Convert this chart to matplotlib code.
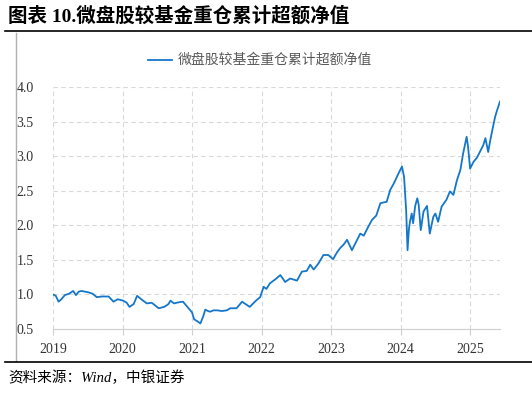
import matplotlib
matplotlib.use('Agg')
import matplotlib.pyplot as plt
from matplotlib.lines import Line2D
import pandas as pd

# 读图估计的关键点（年份小数, 净值）
years = [2019.00, 2019.04, 2019.08, 2019.12, 2019.17, 2019.23, 2019.29, 2019.33, 2019.37, 2019.41,
         2019.51, 2019.57, 2019.63, 2019.70, 2019.80, 2019.87, 2019.93, 2020.01, 2020.06, 2020.10,
         2020.16, 2020.21, 2020.27, 2020.35, 2020.42, 2020.52, 2020.60, 2020.66, 2020.69, 2020.74,
         2020.78, 2020.83, 2020.87, 2020.95, 2021.00, 2021.03, 2021.08, 2021.12, 2021.16, 2021.19,
         2021.23, 2021.26, 2021.31, 2021.36, 2021.43, 2021.50, 2021.55, 2021.64, 2021.72, 2021.77,
         2021.83, 2021.88, 2021.93, 2021.98, 2022.03, 2022.07, 2022.12, 2022.20, 2022.27, 2022.34,
         2022.41, 2022.51, 2022.58, 2022.65, 2022.70, 2022.75, 2022.82, 2022.89, 2022.96, 2023.03,
         2023.08, 2023.13, 2023.18, 2023.23, 2023.30, 2023.36, 2023.42, 2023.47, 2023.53, 2023.59,
         2023.65, 2023.71, 2023.80, 2023.85, 2023.90, 2023.97, 2024.02, 2024.05, 2024.08, 2024.10,
         2024.12, 2024.14, 2024.16, 2024.18, 2024.21, 2024.24, 2024.26, 2024.29, 2024.33, 2024.38,
         2024.42, 2024.47, 2024.50, 2024.54, 2024.59, 2024.66, 2024.71, 2024.76, 2024.81, 2024.86,
         2024.90, 2024.95, 2024.97, 2025.00, 2025.05, 2025.10, 2025.14, 2025.19, 2025.22, 2025.26,
         2025.29, 2025.31, 2025.36, 2025.39, 2025.43]
values = [1.00, 0.98, 0.895, 0.93, 0.99, 1.01, 1.05, 0.99, 1.04, 1.05,
          1.03, 1.01, 0.96, 0.97, 0.97, 0.895, 0.93, 0.91, 0.88, 0.82,
          0.86, 0.98, 0.93, 0.87, 0.88, 0.80, 0.82, 0.86, 0.91, 0.87,
          0.88, 0.89, 0.895, 0.80, 0.74, 0.64, 0.61, 0.58, 0.68, 0.78,
          0.76, 0.75, 0.77, 0.77, 0.76, 0.77, 0.80, 0.80, 0.895, 0.86,
          0.82, 0.87, 0.92, 0.96, 1.11, 1.08, 1.16, 1.22, 1.28, 1.18,
          1.23, 1.20, 1.33, 1.34, 1.43, 1.36, 1.45, 1.57, 1.57, 1.51,
          1.60, 1.67, 1.72, 1.79, 1.64, 1.76, 1.88, 1.85, 1.97, 2.08,
          2.14, 2.32, 2.34, 2.51, 2.60, 2.75, 2.85, 2.70, 2.22, 1.64,
          1.95, 2.08, 2.17, 2.03, 2.28, 2.39, 2.30, 1.93, 2.20, 2.28,
          1.88, 2.12, 2.17, 2.05, 2.27, 2.37, 2.49, 2.44, 2.65, 2.80,
          3.04, 3.28, 3.14, 2.82, 2.92, 2.98, 3.06, 3.16, 3.26, 3.06,
          3.23, 3.33, 3.57, 3.67, 3.79]

year_ticks = [2019, 2020, 2021, 2022, 2023, 2024, 2025]
y_ticks = [0.5, 1.0, 1.5, 2.0, 2.5, 3.0, 3.5, 4.0]
series_name = '微盘股较基金重仓累计超额净值'

cjk = ['Liberation Serif', 'Noto Sans CJK SC']
line_color = '#1477c9'

fig = plt.figure(figsize=(5.32, 3.93), dpi=100)
ax = fig.add_axes([53 / 532, 1 - 329 / 393, 447 / 532, 242 / 393])

ax.plot(years, values, color=line_color, lw=1.3)

ax.set_xlim(2019, 2025.43)
ax.set_ylim(0.5, 4.0)
ax.set_xticks(year_ticks)
ax.set_xticklabels([str(y) for y in year_ticks])
ax.set_yticks(y_ticks)
ax.set_yticklabels([f'{v:.1f}' for v in y_ticks])
ax.grid(True, color='#d9d9d9', lw=0.8, ls=(0, (4, 3)))
ax.set_axisbelow(True)
for s in ['top', 'right', 'left']:
    ax.spines[s].set_visible(False)
ax.spines['bottom'].set_color('#d0d0d0')
ax.tick_params(axis='y', length=0, pad=14, labelsize=10, labelcolor='#333333')
ax.tick_params(axis='x', length=4, color='#d0d0d0', pad=6, labelsize=10, labelcolor='#333333')
for lab in ax.get_xticklabels() + ax.get_yticklabels():
    lab.set_family('Liberation Serif')

# 图例
fig.add_artist(Line2D([148 / 532, 172 / 532], [1 - 60 / 393] * 2, color=line_color, lw=1.3))
fig.text(178 / 532, 1 - 60 / 393, series_name, family=cjk, fontsize=10,
         color='#595959', va='center', ha='left')

# 标题与边框
fig.text(8 / 532, 1 - 16 / 393, '图表 10.微盘股较基金重仓累计超额净值', family=cjk,
         fontsize=14, fontweight='bold', va='center', ha='left')
fig.add_artist(Line2D([5 / 532, 1], [1 - 31 / 393] * 2, color='black', lw=1.2))
fig.add_artist(Line2D([16 / 532, 16 / 532], [1 - 33 / 393, 1 - 361 / 393], color='#b0b0b0', lw=1))
fig.add_artist(Line2D([5 / 532, 1], [1 - 362 / 393] * 2, color='black', lw=1.2))
fig.text(8 / 532, 1 - 378 / 393, '资料来源：Wind，中银证券', family=cjk, style='italic',
         fontsize=10.5, va='center', ha='left')

fig.savefig('out.png', dpi=100)
